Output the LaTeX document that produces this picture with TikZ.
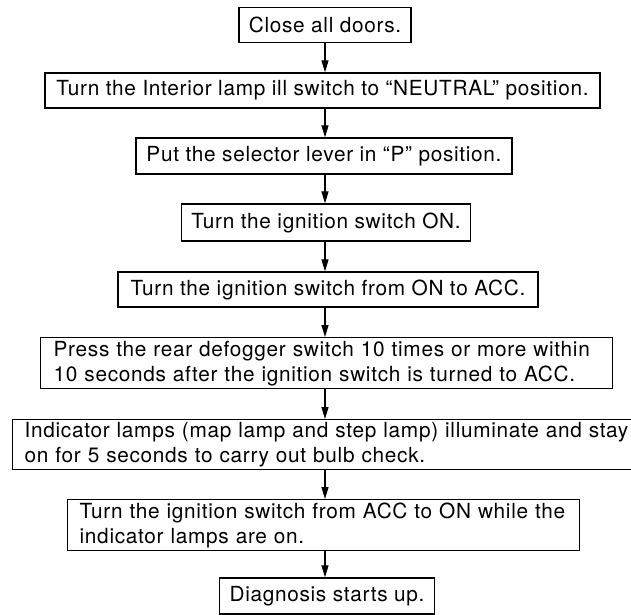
\documentclass[tikz,border=0pt]{standalone}
\usepackage{fontspec}
\setmainfont{TeX Gyre Heros}[LetterSpace=3.3]
\usetikzlibrary{arrows.meta}

\tikzset{
  stepbox/.style={draw, line width=1.4pt, inner xsep=10pt, inner ysep=0pt,
    minimum height=35pt, font=\fontsize{20.8}{25}\selectfont},
  twoline/.style={stepbox, align=left, inner xsep=13pt, minimum height=51pt,
    anchor=north west},
  flow/.style={line width=1.1pt, -{Triangle[length=12pt,width=7pt]}}
}

\begin{document}
\begin{tikzpicture}[x=1pt, y=-1pt]

  % page frame
  \useasboundingbox (0,0) rectangle (631,614);

  % spine of the chart
  \coordinate (spine) at (325,0);

  % steps
  \node[stepbox] (doors) at (325, 25) {Close all doors.};
  \node[stepbox, minimum width=555pt] (neutral) at (322.5, 90.5)
    {Turn the Interior lamp ill switch to “NEUTRAL” position.};
  \node[stepbox, minimum width=376pt, minimum height=36pt] (lever) at (324, 156)
    {Put the selector lever in “P” position.};
  \node[stepbox, minimum width=288pt, minimum height=37pt] (ignon) at (326, 222.5)
    {Turn the ignition switch ON.};
  \node[stepbox, minimum width=420pt] (ignacc) at (328, 289.5)
    {Turn the ignition switch from ON to ACC.};
  \node[twoline, text width=546pt] (defog) at (40, 337)
    {Press the rear defogger switch 10 times or more within\\10 seconds after the ignition switch is turned to ACC.};
  \node[twoline, text width=604pt, inner xsep=12pt, minimum height=50pt] (bulb) at (12, 419)
    {Indicator lamps (map lamp and step lamp) illuminate and stay\\on for 5 seconds to carry out bulb check.};
  \node[twoline, text width=488pt, inner xsep=12pt] (acc2on) at (67, 499)
    {Turn the ignition switch from ACC to ON while the\\indicator lamps are on.};
  \node[stepbox, minimum height=36pt] (diag) at (327, 596) {Diagnosis starts up.};

  % connectors
  \foreach \a/\b in {doors/neutral, neutral/lever, lever/ignon, ignon/ignacc,
                     ignacc/defog, defog/bulb, bulb/acc2on, acc2on/diag}
    \draw[flow] (spine |- \a.south) -- (spine |- \b.north);

\end{tikzpicture}
\end{document}
